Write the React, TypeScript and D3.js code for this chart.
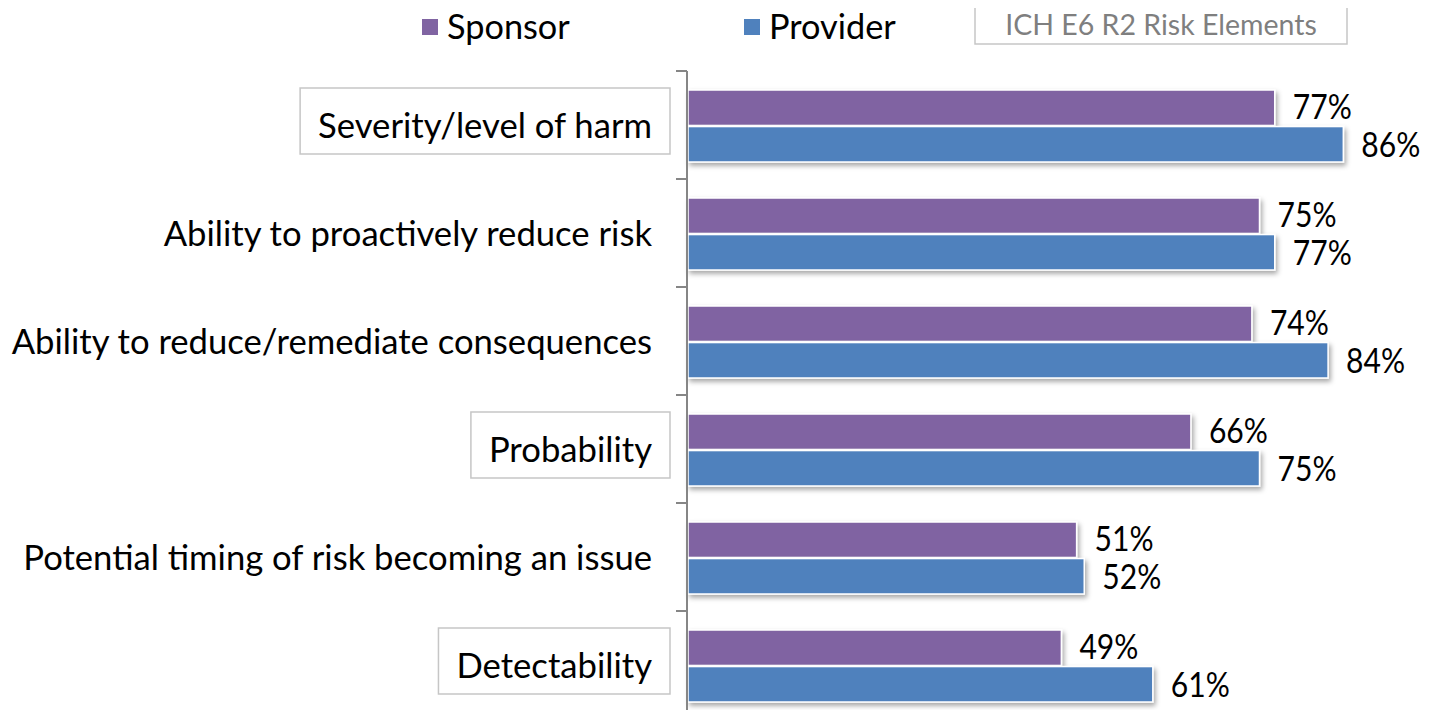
import React, { useEffect, useRef } from 'react'
import * as d3 from 'd3'

const categories = [
  'Severity/level of harm',
  'Ability to proactively reduce risk',
  'Ability to reduce/remediate consequences',
  'Probability',
  'Potential timing of risk becoming an issue',
  'Detectability',
]
const sponsor = [77, 75, 74, 66, 51, 49]
const provider = [86, 77, 84, 75, 52, 61]
// categories that are ICH E6 R2 risk elements get a box
const boxed = ['Severity/level of harm', 'Probability', 'Detectability']
const seriesNames = ['Sponsor', 'Provider']
const colors = ['#8064A2', '#4F81BD']

const FONT = 'Lato, sans-serif'

const App = () => {
  const ref = useRef<HTMLDivElement>(null)

  useEffect(() => {
    draw()
  }, [])

  const draw = () => {
    const root = d3.select(ref.current)
    root.selectAll('*').remove()
    const svg = root.append('svg')
      .attr('width', 1429)
      .attr('height', 718)
      .style('display', 'block')

    const defs = svg.append('defs')
    const f = defs.append('filter').attr('id', 'shadow')
      .attr('x', '-5%').attr('y', '-30%').attr('width', '115%').attr('height', '180%')
    f.append('feDropShadow')
      .attr('dx', 2).attr('dy', 3).attr('stdDeviation', 2.5)
      .attr('flood-color', '#000').attr('flood-opacity', 0.35)

    const axisX = 687
    const x = d3.scaleLinear().domain([0, 100]).range([axisX + 1, axisX + 1 + 762])
    const y0 = d3.scaleBand<string>().domain(categories).range([71, 719])
    const y1 = d3.scaleBand<string>().domain(seriesNames).range([19, 91]).paddingInner(0.03)

    // text with a horizontal squeeze (the original face is narrower than Lato)
    const text = (g: any, tx: number, ty: number, t: string, size: number, anchor: string, sx = 1, fill = '#000') => {
      const w = g.append('g').attr('transform', `translate(${tx},${ty}) scale(${sx},1)`)
      return w.append('text')
        .attr('font-family', FONT)
        .attr('font-size', size)
        .attr('text-anchor', anchor)
        .attr('fill', fill)
        .text(t)
    }

    // bars
    const rows = categories.map((c, i) => ({ c, vals: [sponsor[i], provider[i]] }))
    const grp = svg.append('g').selectAll('g').data(rows).enter().append('g')
      .attr('transform', d => `translate(0,${y0(d.c)})`)
    grp.selectAll('rect')
      .data(d => d.vals.map((v, k) => ({ key: seriesNames[k], v, k })))
      .enter().append('rect')
      .attr('x', x(0))
      .attr('y', d => y1(d.key)!)
      .attr('width', d => x(d.v) - x(0))
      .attr('height', y1.bandwidth())
      .attr('fill', d => colors[d.k])
      .attr('stroke', '#fff')
      .attr('stroke-width', 1.5)
      .attr('filter', 'url(#shadow)')

    // value labels
    grp.each(function (d) {
      const g = d3.select(this)
      d.vals.forEach((v, k) => {
        const cy = y1(seriesNames[k])! + y1.bandwidth() / 2
        text(g, x(v) + 18, cy + (k === 0 ? 11 : 13), `${v}%`, 35, 'start', 0.86)
      })
    })

    // axis
    const ax = svg.append('g')
    ax.append('line')
      .attr('x1', axisX).attr('x2', axisX)
      .attr('y1', 71).attr('y2', 718)
      .attr('stroke', '#868686').attr('stroke-width', 2)
    ax.selectAll('line.tick')
      .data(categories)
      .enter().append('line')
      .attr('class', 'tick')
      .attr('x1', 676).attr('x2', axisX)
      .attr('y1', d => y0(d)!).attr('y2', d => y0(d)!)
      .attr('stroke', '#868686').attr('stroke-width', 2)

    // category labels
    const labRight = 652
    const csx = 0.99
    categories.forEach(c => {
      const cy = y0(c)! + y0.bandwidth() / 2
      if (boxed.includes(c)) {
        const t = text(svg, 0, -100, c, 35, 'end', csx)
        const w = (t.node() as SVGTextElement).getComputedTextLength() * csx
        t.remove()
        svg.append('rect')
          .attr('x', labRight - w - 18).attr('y', cy - 37)
          .attr('width', w + 36).attr('height', 66)
          .attr('fill', '#fff').attr('stroke', '#c6c6c6').attr('stroke-width', 1.5)
      }
      text(svg, labRight, cy + 13, c, 35, 'end', csx)
    })

    // legend
    const lg = svg.append('g')
    const lx = [422, 744]
    seriesNames.forEach((s, k) => {
      lg.append('rect')
        .attr('x', lx[k]).attr('y', 19).attr('width', 16).attr('height', 16)
        .attr('fill', colors[k])
      text(lg, lx[k] + 25, 39, s, 35, 'start', 0.98)
    })
    lg.append('rect')
      .attr('x', 975).attr('y', 5).attr('width', 372).attr('height', 39)
      .attr('fill', '#fff').attr('stroke', '#c6c6c6').attr('stroke-width', 1.5)
    text(lg, 1161, 35, 'ICH E6 R2 Risk Elements', 28.5, 'middle', 1, '#7f7f7f')
  }

  return (
    <div style={{ margin: -8 }}>
      <div ref={ref}></div>
    </div>
  )
}

export default App
